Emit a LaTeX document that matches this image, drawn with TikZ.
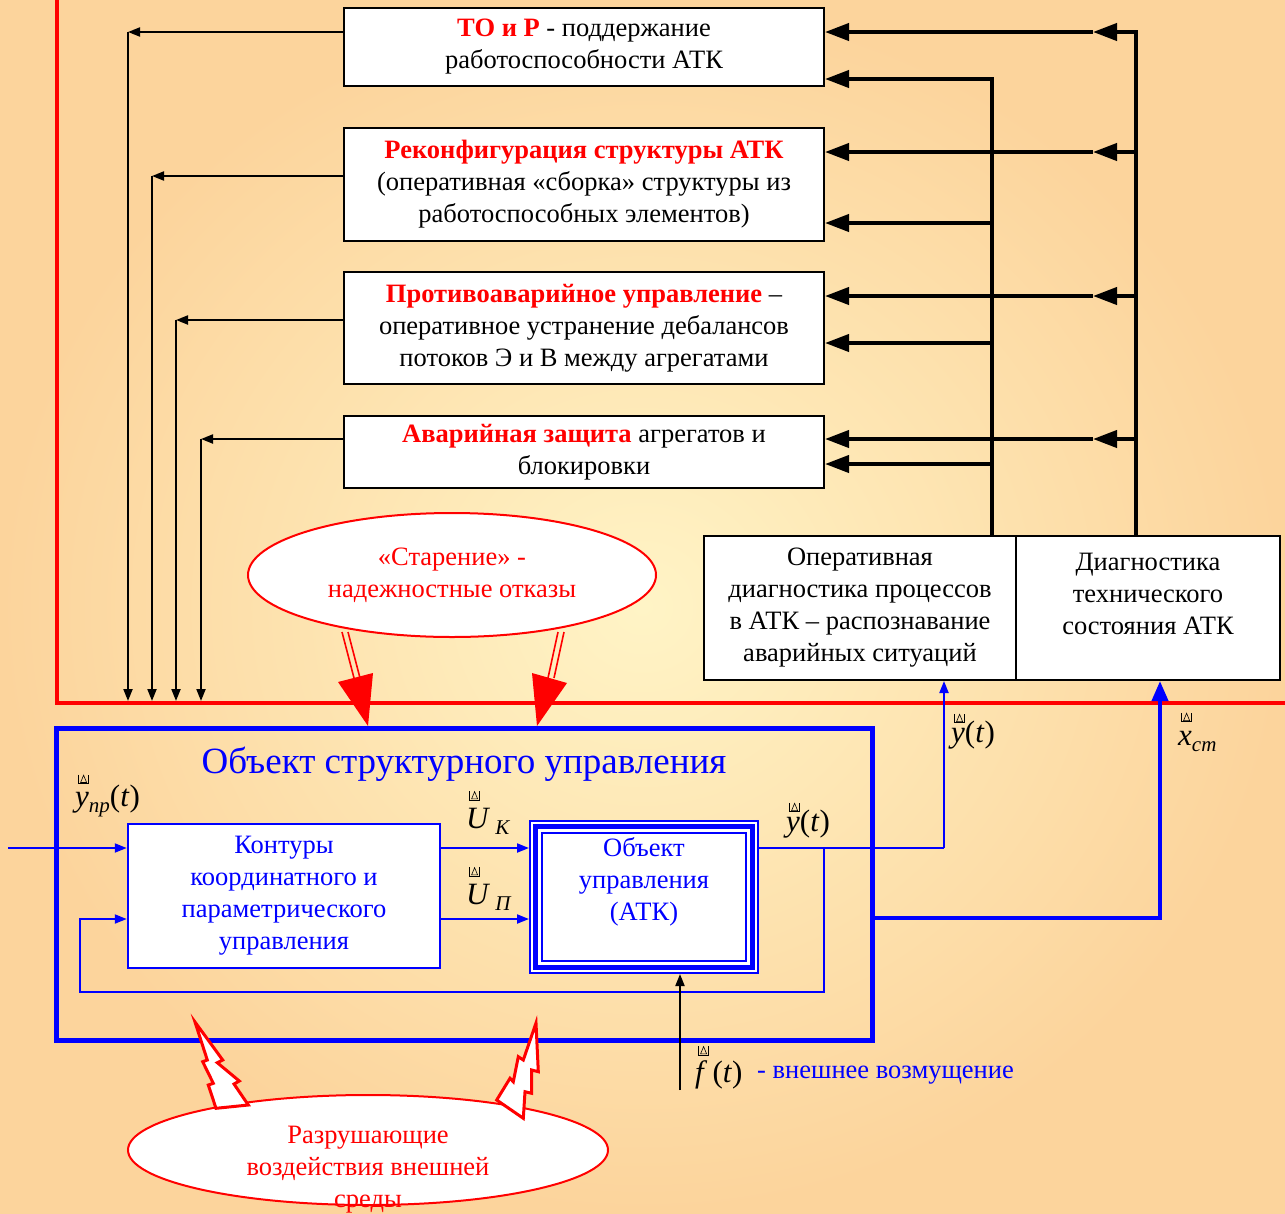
\documentclass[tikz,border=0pt]{standalone}
\usepackage{fontspec}
\setmainfont{Liberation Serif}
\usetikzlibrary{arrows.meta,shapes.geometric,calc}
\definecolor{bgin}{RGB}{255,244,198}
\definecolor{bgout}{RGB}{252,212,156}
\definecolor{pred}{RGB}{255,0,0}
\definecolor{pblue}{RGB}{0,0,255}

% small box-and-delta mark set above vector quantities
\newcommand\vmk{\tikz[x=1pt,y=1pt,line width=0.6pt,baseline=0pt]{\draw[black] (0,9)--(0,0)--(10,0)--(10,9); \draw[black] (2,1.2)--(5,8.5)--(8,1.2)--cycle;}}
\newcommand\vac[2]{\leavevmode\rlap{\raisebox{#1}{\hspace{0.1em}\vmk}}#2}
\newcommand\subs[1]{\raisebox{-0.22em}{\fontsize{21}{21}\selectfont\itshape #1}}

\begin{document}
\begin{tikzpicture}[x=1pt,y=-1pt,
  txt/.style={font=\fontsize{26.5}{32}\selectfont},
  blockbox/.style={draw=black,line width=2pt,fill=white,align=center,inner sep=0pt,txt},
  bluebox/.style={draw=pblue,line width=2.5pt,fill=white,align=center,inner sep=0pt,txt,text=pblue},
  ovalbox/.style={ellipse,draw=pred,line width=2pt,fill=white,inner sep=0pt,align=center,txt,text=pred},
  thinarr/.style={draw=black,line width=2pt,-{Triangle[length=12pt,width=9pt]}},
  thinln/.style={draw=black,line width=2pt},
  bigarr/.style={draw=black,line width=4pt,-{Triangle[length=24pt,width=17pt]}},
  bigln/.style={draw=black,line width=4pt},
  barr/.style={draw=pblue,line width=2pt,-{Triangle[length=12pt,width=9pt]}},
  bln/.style={draw=pblue,line width=2pt},
  lab/.style={anchor=base west,inner sep=0pt,font=\fontsize{31}{31}\selectfont},
  bolt/.style={draw=pred,line width=3pt,fill=white,line join=miter}
]
% page and background
\useasboundingbox (0,0) rectangle (1285,1213);
\shade[inner color=bgin,outer color=bgout] (0,0) rectangle (1285,1213);

% red frame of the structural control level
\draw[pred,line width=4pt] (57,-2) -- (57,703) -- (1287,703);

% control function blocks
\node[blockbox,minimum width=480pt,minimum height=78pt] (b1) at (584,47)
  {\textcolor{pred}{\textbf{ТО и Р}} - поддержание\\работоспособности АТК};
\node[blockbox,minimum width=480pt,minimum height=113pt] (b2) at (584,184.5)
  {\textcolor{pred}{\textbf{Реконфигурация структуры АТК}}\\(оперативная «сборка» структуры из\\работоспособных элементов)};
\node[blockbox,minimum width=480pt,minimum height=112pt] (b3) at (584,328)
  {\textcolor{pred}{\textbf{Противоаварийное управление}} –\\оперативное устранение дебалансов\\потоков Э и В между агрегатами};
\node[blockbox,minimum width=480pt,minimum height=72pt] (b4) at (584,452)
  {\textcolor{pred}{\textbf{Аварийная защита}} агрегатов и\\блокировки};

% diagnostics blocks
\node[blockbox,minimum width=312pt,minimum height=144pt] (dA) at (860,608)
  {Оперативная\\диагностика процессов\\в АТК – распознавание\\аварийных ситуаций};
\node[blockbox,minimum width=264pt,minimum height=144pt] (dB) at (1148,608) {};
\node[txt,align=center] (dBt) at (1148,594) {Диагностика\\технического\\состояния АТК};

% control actions down to the object
\foreach \yy/\xx/\b in {32/128/b1,176/152/b2,320/176/b3,439/201/b4}{
  \coordinate (c\b) at (\xx,\yy);
  \coordinate (e\b) at (\xx,701);
  \draw[thinarr] (\b.west |- 0,\yy) -- (c\b);
  \draw[thinarr] (c\b) -- (e\b);
}

% technical state diagnostics feed
\coordinate (tB) at (1136,30);
\draw[bigln] (tB) -- (dB.north -| 1136,0);
\foreach \yy/\b in {32/b1,152/b2,296/b3,439/b4}{
  \coordinate (m\b) at (1093,\yy);
  \draw[bigarr] (1136,\yy) -- (m\b);
  \draw[bigarr] (m\b) -- (\b.east |- 0,\yy);
}
% process diagnostics feed
\coordinate (tA) at (992,77);
\draw[bigln] (tA) -- (dA.north -| 992,0);
\foreach \yy/\b in {79/b1,223/b2,343/b3,464/b4}{
  \draw[bigarr] (992,\yy) -- (\b.east |- 0,\yy);
}

% ageing failures
\node[ovalbox,minimum width=408pt,minimum height=124pt] (age) at (452,575) {«Старение» -\\надежностные отказы};
\draw[pred,line width=1.6pt] (342,632) -- (354,678) (348,632) -- (360,678);
\fill[pred] (338,682) -- (373,673) -- (368,726) -- cycle;
\draw[pred,line width=1.6pt] (558,632) -- (548,678) (564,632) -- (554,678);
\fill[pred] (532,673) -- (567,683) -- (537,726) -- cycle;

% object of structural control
\node[draw=pblue,line width=5pt,minimum width=816pt,minimum height=312pt,inner sep=0pt] (obj) at (464,884) {};
\node[anchor=base,inner sep=0pt,text=pblue,font=\fontsize{37}{37}\selectfont] (title) at (464,773) {Объект структурного управления};

\node[bluebox,minimum width=312pt,minimum height=144pt] (kont) at (284,896)
  {Контуры\\координатного и\\параметрического\\управления};

% controlled plant (triple border)
\node[draw=pblue,line width=2pt,fill=white,minimum width=228pt,minimum height=152pt,inner sep=0pt] (atk) at (644,897) {};
\draw[pblue,line width=4.5pt] (535.5,826.5) rectangle (752.5,967.5);
\draw[pblue,line width=2pt] (542,833) rectangle (746,961);
\node[txt,align=center,text=pblue] (atkt) at (644,882) {Объект\\управления\\(АТК)};

% signal paths
\coordinate (inp) at (8,848);
\draw[barr] (inp) -- (kont.west |- 0,848);
\draw[barr] (kont.east |- 0,848) -- (atk.west |- 0,848);
\draw[barr] (kont.east |- 0,919) -- (atk.west |- 0,919);
\coordinate (yo) at (944,848);
\draw[bln] (atk.east |- 0,848) -- (yo);
\draw[barr] (yo) -- (dA.south -| 944,0);
\coordinate (fb1) at (824,848);
\coordinate (fb2) at (80,992);
\draw[barr] (fb1) -- (824,992) -- (fb2) -- (80,919) -- (kont.west |- 0,919);
\coordinate (xs) at (1160,918);
\draw[pblue,line width=4pt,-{Triangle[length=20pt,width=16pt]}] (obj.east |- 0,918) -- (xs) -- (dB.south -| 1160,0);
\coordinate (fin) at (680,1090);
\draw[thinarr] (fin) -- (atk.south -| 680,0);

% signal labels
\node[lab] (lyp) at (75,806) {\vac{0.72em}{\textit{y}}\subs{пр}(\textit{t})};
\node[lab] (luk) at (466,828) {\vac{0.9em}{\textit{U}}\,\subs{К}};
\node[lab] (lup) at (466,904) {\vac{0.9em}{\textit{U}}\,\subs{П}};
\node[lab] (ly1) at (786,831) {\vac{0.62em}{\textit{y}}(\textit{t})};
\node[lab] (ly2) at (951,742) {\vac{0.62em}{\textit{y}}(\textit{t})};
\node[lab] (lxs) at (1178,745) {\vac{0.75em}{\textit{x}}\subs{ст}};
\node[lab] (lf) at (695,1082) {\vac{0.87em}{\textit{f}}\,(\textit{t})};
\node[anchor=base west,inner sep=0pt,txt,text=pblue] (lfd) at (757,1078) {- внешнее возмущение};

% destructive environment
\node[ovalbox,minimum width=480pt,minimum height=110pt] (env) at (368,1150) {};
\node[txt,align=center,text=pred] (envt) at (368,1170) {Разрушающие\\воздействия внешней\\среды};
\draw[bolt] (195,1022) -- (222.7,1060) -- (217.3,1062.7) -- (239.3,1081) -- (234,1084) -- (248.3,1105)
  -- (216,1108.3) -- (208.3,1085) -- (213.3,1083.3) -- (202.7,1061.7) -- (207.3,1060) -- cycle;
\draw[bolt] (536,1023) -- (538.3,1071.7) -- (531.7,1070) -- (531.7,1093.3) -- (525,1091.7) -- (523.3,1118.3)
  -- (496.7,1100) -- (510,1078.3) -- (513.3,1081.7) -- (518.3,1056.7) -- (523.3,1060) -- cycle;
\end{tikzpicture}
\end{document}
